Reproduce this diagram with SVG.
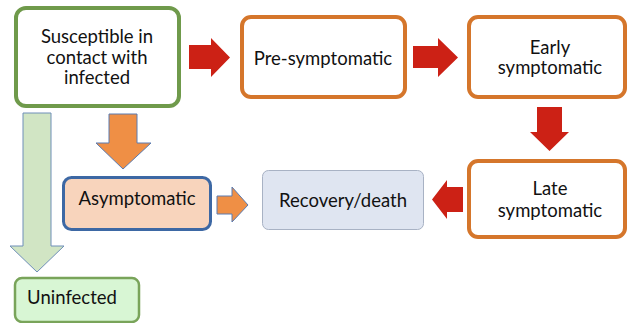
<svg xmlns="http://www.w3.org/2000/svg" width="628" height="323" viewBox="0 0 628 323">
<style>
text{font-family:Lato,"Open Sans","Liberation Sans",sans-serif;font-size:18.5px;fill:#111;text-anchor:middle}
.orangebox{fill:#fff;stroke:#d5762b;stroke-width:4}
.red{fill:#cc2115}
.org{fill:#ef8f45;stroke:#5b7bb0;stroke-width:1}
</style>
<rect width="628" height="323" fill="#fff"/>
<g id="connectors">
<polygon class="red" points="189,45 211,45 211,38 230,57.5 211,77 211,69 189,69"/>
<polygon class="red" points="413,46 438,46 438,38 458,57.5 438,77 438,68 413,68"/>
<polygon class="red" points="537,107 562,107 562,132 569,132 549.5,151 530,132 537,132"/>
<polygon class="red" points="463,187 447,187 447,180 432,199.5 447,219 447,212 463,212"/>
<polygon fill="#d1e5c4" stroke="#6f8fb8" stroke-width="1" points="23,113 51,113 51,246 64,246 37,272 10,246 23,246"/>
<polygon class="org" points="109,114 137,114 137,143 151,143 123,169 96,143 109,143"/>
<polygon class="org" points="217,196 232,196 232,187 248,205 232,222 232,214 217,214"/>
</g>
<g id="susceptible">
<rect x="16" y="8" width="163" height="98" rx="10" fill="#fff" stroke="#6f9a4b" stroke-width="4"/>
<text x="97" y="43">Susceptible in</text>
<text x="97" y="64">contact with</text>
<text x="97" y="84">infected</text>
</g>
<g id="presymptomatic">
<rect class="orangebox" x="242" y="17" width="163" height="80" rx="9"/>
<text x="323" y="65">Pre-symptomatic</text>
</g>
<g id="early">
<rect class="orangebox" x="469" y="17" width="156" height="80" rx="9"/>
<text x="550" y="54">Early</text>
<text x="550" y="74">symptomatic</text>
</g>
<g id="late">
<rect class="orangebox" x="469" y="161" width="156" height="76" rx="9"/>
<text x="550" y="195">Late</text>
<text x="550" y="217">symptomatic</text>
</g>
<g id="recovery">
<rect x="262.5" y="170.5" width="161" height="59" rx="6" fill="#dfe5f1" stroke="#a8b2c4" stroke-width="1"/>
<text x="343" y="207">Recovery/death</text>
</g>
<g id="asymptomatic">
<rect x="63.5" y="177.5" width="147" height="52" rx="8" fill="#f8d4bc" stroke="#3d68a4" stroke-width="3"/>
<text x="137" y="205">Asymptomatic</text>
</g>
<g id="uninfected">
<rect x="15" y="278" width="124" height="44" rx="7" fill="#d8f6d4" stroke="#79a45a" stroke-width="2.5"/>
<text x="72" y="304">Uninfected</text>
</g>
</svg>
